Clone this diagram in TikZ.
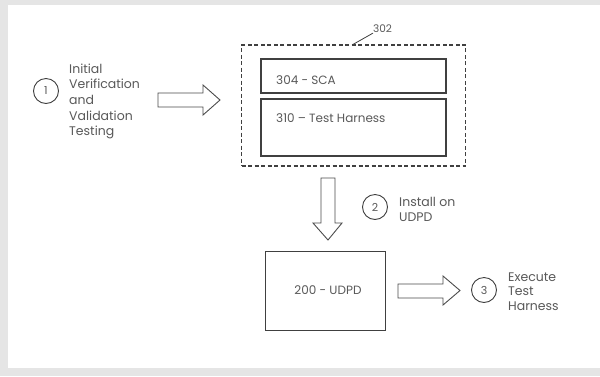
\documentclass[tikz,border=0pt]{standalone}
\usepackage{fontspec}
\setmainfont{Poppins}
\begin{document}
\begin{tikzpicture}[x=1pt,y=-1pt,
  lbl/.style={font=\fontsize{12}{15.7}\selectfont, text=black!65, inner sep=0pt},
  side/.style={lbl, anchor=west, align=left},
  box/.style={draw=black!75, line width=1.1pt, inner sep=0pt},
  num/.style={draw=black!75, line width=0.9pt, circle, minimum size=25pt, inner sep=0pt, font=\fontsize{11}{12}\selectfont, text=black!65},
  barrow/.style={draw=black!70, line width=0.9pt, fill=white, line join=miter}
]
\fill[black!10] (0,0) rectangle (600,376);
\fill[white] (8,5) rectangle (600,368);
\useasboundingbox (0,0) rectangle (600,376);

% step 1
\node[num] (c1) at (46,91) {1};
\node[side, font=\fontsize{12.5}{15.7}\selectfont] (t1) at (69,101.5) {Initial\\Verification\\and\\Validation\\Testing};
\draw[barrow] (158,93) -- (203,93) -- (203,85) -- (220,100) -- (203,115) -- (203,107) -- (158,107) -- cycle;

% container 302
\node[draw=black!75, line width=1.1pt, dash pattern=on 4pt off 2.5pt, minimum width=224pt, minimum height=121pt, inner sep=0pt] (c302) at (353.5,105.5) {};
\node[box, minimum width=185pt, minimum height=34pt] (b304) at (353.5,76) {};
\node[lbl, anchor=west] (t304) at (276,80) {304 - SCA};
\node[box, minimum width=185pt, minimum height=57pt] (b310) at (353.5,127.5) {};
\node[lbl, anchor=west] (t310) at (276,118) {310 -- Test Harness};
\node[lbl, anchor=west, font=\fontsize{10.5}{11}\selectfont] (t302) at (373,29) {302};
\coordinate (lead) at (352,45);
\draw[black!75, line width=0.8pt] (lead) -- (t302.south west);

% step 2
\draw[barrow] (321,178) -- (335,178) -- (335,223) -- (342,223) -- (328,240) -- (313,223) -- (321,223) -- cycle;
\node[num] (c2) at (375,207) {2};
\node[side, font=\fontsize{12.5}{15}\selectfont] (t2) at (399,209) {Install on\\UDPD};

% UDPD
\node[box, minimum width=120pt, minimum height=79pt] (b200) at (325.5,291) {};
\node[lbl] (t200) at (328,290) {200 - UDPD};

% step 3
\draw[barrow] (398,284) -- (443,284) -- (443,276) -- (460,290.5) -- (443,305) -- (443,298) -- (398,298) -- cycle;
\node[num] (c3) at (484,290) {3};
\node[side, font=\fontsize{12.5}{14.7}\selectfont] (t3) at (508,291.5) {Execute\\Test\\Harness};
\end{tikzpicture}
\end{document}
